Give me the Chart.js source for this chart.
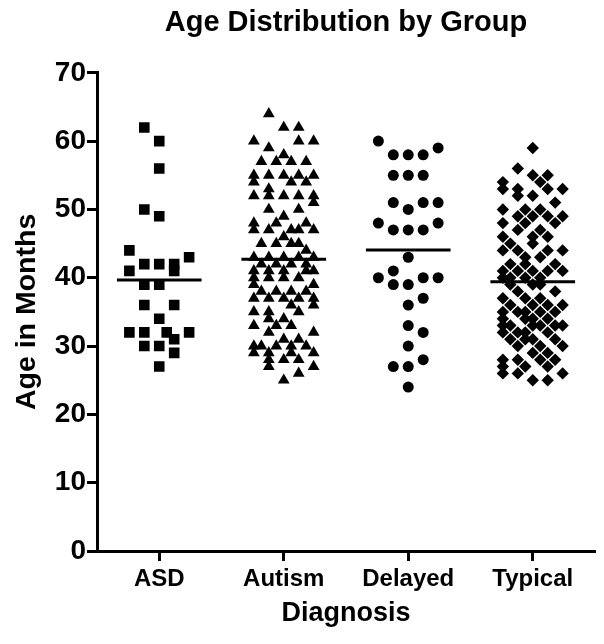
<!DOCTYPE html>
<html>
<head>
<meta charset="utf-8">
<script src="https://cdn.jsdelivr.net/npm/chart.js@4.4.0/dist/chart.umd.min.js"></script>
<style>
  html, body { margin: 0; padding: 0; background: #fff; }
  #wrap { width: 604px; height: 644px; }
</style>
</head>
<body>
<div id="wrap"><canvas id="edadGrupos"></canvas></div>
<script>
// categorias y ticks
const groups = ['ASD', 'Autism', 'Delayed', 'Typical'];
const yTicks = [0, 10, 20, 30, 40, 50, 60, 70];

// edades (meses) y columna del punto dentro del grupo
const asdAges  = [62, 60, 56, 50, 49, 44, 43, 42, 42, 42, 41, 41, 39, 39, 36, 36, 34, 32, 32, 32, 32, 31, 30, 30, 29, 27];
const asdSlots = [-2,  0,  0, -2,  0, -4,  4, -2,  0,  2, -4,  2, -2,  0, -2,  2,  0, -4, -2,  1,  4,  2, -2,  0,  2,  0];

const autismAges = [
  64, 62, 62, 60, 60, 60, 59, 58, 57, 57, 57, 57,
  55, 55, 55, 55, 55, 54, 54, 54, 53, 52, 52, 52, 52, 52, 51,
  50, 50, 49, 48, 48, 48, 47, 47, 47, 47, 47, 46, 45, 45, 45, 45, 44,
  43, 43, 43, 43, 43, 42, 42, 42, 42, 41, 41, 41, 41, 41, 40, 40, 40, 40,
  39, 39, 38, 38, 38, 38, 37, 37, 37, 37, 37, 36, 36, 35, 35, 35, 34, 34,
  33, 33, 33, 32, 32, 31, 31, 30, 30, 30, 30, 30, 29, 29, 29, 29,
  28, 28, 28, 27, 27, 26, 25
];
const autismSlots = [
  -2,  0,  2, -4,  2,  4, -2,  0, -3, -1,  1,  3,
  -4, -2,  0,  2,  4, -4,  1,  3, -2, -4, -2,  0,  2,  4,  4,
  -2,  2,  0, -4, -1,  3, -4, -2,  1,  2,  4,  0, -3, -1,  1,  2,  3,
  -4, -2,  0,  2,  4, -3, -1,  1,  3, -4, -2,  0,  3,  4, -4, -2,  0,  2,
  -4,  4, -3, -1,  1,  3, -4, -2,  0,  2,  4,  1,  4, -4, -2,  2, -2,  0,
  -4, -1,  1, -2,  4,  0,  2, -4, -3, -1,  1,  3, -4, -2,  1,  4,
  -2,  0,  2, -2,  4,  2,  0
];

const delayedAges  = [60, 59, 58, 58, 58, 55, 55, 55, 51, 51, 51, 50, 48, 48, 47, 47, 47, 43, 41, 40, 40, 40, 39, 39, 37, 36, 33, 32, 30, 28, 27, 27, 24];
const delayedSlots = [-4,  4, -2,  0,  2, -2,  0,  2, -2,  2,  4,  0, -4,  4, -2,  0,  2,  0, -2, -4,  2,  4, -2,  0,  2,  0,  0,  2,  0,  2, -2,  0,  0];

const typicalAges = [
  59, 56, 55, 55, 54, 54, 53, 53, 53, 53, 52, 52, 51, 50, 50, 50,
  49, 49, 49, 49, 48, 48, 48, 47, 47, 46, 46, 46, 45, 45, 44, 44, 44, 44,
  43, 43, 42, 42, 42, 41, 41, 41, 41, 41, 40, 40, 40, 40, 39, 39, 39,
  38, 38, 37, 37, 37, 36, 36, 36, 36, 35, 35, 35, 35, 35, 34, 34, 34, 34,
  33, 33, 33, 33, 33, 33, 32, 32, 32, 32, 31, 31, 31, 31, 30, 30, 30,
  29, 29, 28, 28, 28, 28, 27, 27, 27, 26, 26, 26, 25, 25
];
const typicalSlots = [
   0, -2,  0,  2, -4,  1, -4, -2,  2,  4, -2,  0,  3, -4, -1,  1,
  -2,  0,  2,  4, -4, -1,  3, -2,  1, -4,  0,  2, -3,  0, -4, -2,  2,  4,
  -1,  1, -3, -1,  3, -4, -2,  0,  2,  4, -4, -3, -1,  1, -3,  0,  1,
  -2,  3, -4, -1,  1, -3,  0,  2,  4, -4, -2, -1,  1,  3, -4, -1,  0,  2,
  -4, -3,  0,  1,  3,  4, -4, -2, -1,  2, -3, -1,  0,  3, -2,  1,  4,
   0,  2, -4, -2,  1,  3, -4, -1,  2, -2,  4, -4,  0,  2
];

const slotStep = 0.06;
const meanHalf = 0.34;
const fontFam = "'Liberation Sans', Arial, sans-serif";

function toPoints(ages, slots, g) {
    return ages.map((a, i) => ({ x: g + slots[i] * slotStep, y: a }));
}

function meanLine(ages, g) {
    const m = ages.reduce((s, v) => s + v, 0) / ages.length;
    return [{ x: g - meanHalf, y: m }, { x: g + meanHalf, y: m }];
}

const series = [
    { ages: asdAges, slots: asdSlots, style: 'rect', r: 7.5 },
    { ages: autismAges, slots: autismSlots, style: 'triangle', r: 6.8 },
    { ages: delayedAges, slots: delayedSlots, style: 'circle', r: 5.5 },
    { ages: typicalAges, slots: typicalSlots, style: 'rectRot', r: 6.2 }
];

const datasets = [];
series.forEach((s, g) => {
    datasets.push({
        type: 'scatter',
        label: groups[g],
        data: toPoints(s.ages, s.slots, g),
        pointStyle: s.style,
        pointRadius: s.r,
        backgroundColor: '#000',
        borderColor: '#000',
        borderWidth: 0,
        order: 2
    });
});
series.forEach((s, g) => {
    datasets.push({
        type: 'line',
        label: groups[g] + ' media',
        data: meanLine(s.ages, g),
        borderColor: '#000',
        borderWidth: 3,
        pointRadius: 0,
        fill: false,
        order: 1
    });
});

const ctx = document.getElementById('edadGrupos').getContext('2d');
const edadChart = new Chart(ctx, {
    type: 'scatter',
    data: { datasets: datasets },
    options: {
        responsive: true,
        maintainAspectRatio: false,
        animation: false,
        layout: { padding: { left: 0, right: 9, top: 0, bottom: 0 } },
        plugins: {
            legend: { display: false },
            tooltip: { enabled: false },
            title: {
                display: true,
                text: 'Age Distribution by Group',
                color: '#000',
                fullSize: false,
                font: { family: fontFam, size: 29, weight: 'bold' },
                padding: { top: 6, bottom: 32 }
            }
        },
        scales: {
            x: {
                type: 'linear',
                min: -0.5,
                max: 3.5,
                afterFit: (s) => { s.height = 93; },
                afterBuildTicks: (s) => { s.ticks = groups.map((c, i) => ({ value: i })); },
                ticks: {
                    color: '#000',
                    padding: 4,
                    autoSkip: false,
                    maxRotation: 0,
                    font: { family: fontFam, size: 24, weight: 'bold' },
                    callback: (v) => groups[Math.round(v)]
                },
                grid: { display: true, drawOnChartArea: false, color: '#000', tickLength: 10, tickWidth: 3 },
                border: { display: true, color: '#000', width: 3 },
                title: {
                    display: true,
                    text: 'Diagnosis',
                    color: '#000',
                    font: { family: fontFam, size: 27, weight: 'bold' },
                    padding: { top: 0, bottom: 14 }
                }
            },
            y: {
                min: 0,
                max: 70,
                afterFit: (s) => { s.width = 97; },
                afterBuildTicks: (s) => { s.ticks = yTicks.map((v) => ({ value: v })); },
                ticks: {
                    color: '#000',
                    padding: 1,
                    font: { family: fontFam, size: 28, weight: 'bold' }
                },
                grid: { display: true, drawOnChartArea: false, color: '#000', tickLength: 10, tickWidth: 3 },
                border: { display: true, color: '#000', width: 3 },
                title: {
                    display: true,
                    text: 'Age in Months',
                    color: '#000',
                    font: { family: fontFam, size: 28.5, weight: 'bold' },
                    padding: { top: 10, bottom: 0 }
                }
            }
        }
    }
});
</script>
</body>
</html>
